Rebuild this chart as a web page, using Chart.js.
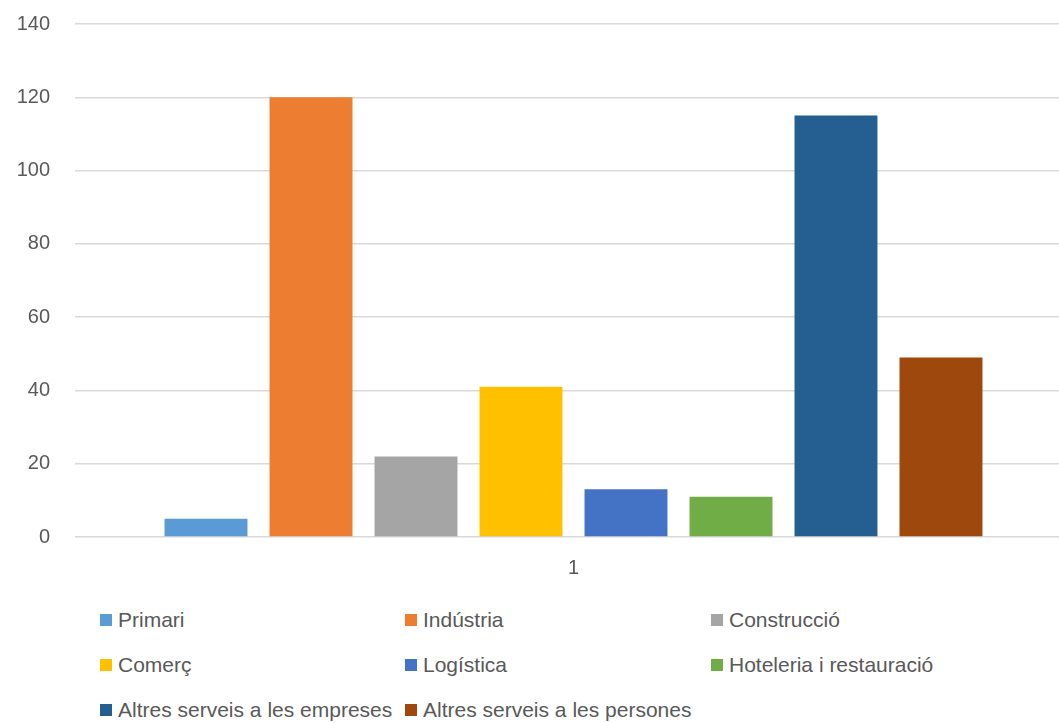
<!DOCTYPE html>
<html>
<head>
<meta charset="utf-8">
<script src="https://cdn.jsdelivr.net/npm/chart.js@4/dist/chart.umd.min.js"></script>
<style>
  html, body { margin: 0; padding: 0; background: #fff; overflow: hidden; }
  body { width: 1059px; height: 723px; position: relative; font-family: "Liberation Sans", Arial, sans-serif; }
  #wrap { position: absolute; left: 0; top: 0; width: 1072px; height: 587px; }
  #legenda { position: absolute; left: 100px; top: 597px; display: grid; grid-template-columns: 305px 306px 306px; row-gap: 0; }
  .item { height: 45px; display: flex; align-items: center; color: #595959; font-size: 21px; white-space: nowrap; }
  .item span.box { width: 12px; height: 12px; margin-right: 6px; display: inline-block; }
</style>
</head>
<body>
<div id="wrap"><canvas id="grafic"></canvas></div>
<div id="legenda"></div>
<script>
// Dades llegides del gràfic
const categories = ['1'];
const sectors = ['Primari', 'Indústria', 'Construcció', 'Comerç', 'Logística',
  'Hoteleria i restauració', 'Altres serveis a les empreses', 'Altres serveis a les persones'];
const valors = [5, 120, 22, 41, 13, 11, 115, 49];
const colors = ['#5B9BD5', '#ED7D31', '#A5A5A5', '#FFC000', '#4472C4', '#70AD47', '#255E91', '#9E480E'];
const ticksY = [0, 20, 40, 60, 80, 100, 120, 140];

const grafic = new Chart(document.getElementById('grafic'), {
  type: 'bar',
  data: {
    labels: categories,
    datasets: sectors.map((s, i) => ({
      label: s,
      data: [valors[i]],
      backgroundColor: colors[i],
      barPercentage: 0.79,
      categoryPercentage: 0.8425
    }))
  },
  options: {
    responsive: true,
    maintainAspectRatio: false,
    animation: false,
    layout: { padding: { top: 0, right: 0, left: 0, bottom: 0 } },
    plugins: {
      legend: { display: false },
      tooltip: { enabled: false }
    },
    scales: {
      x: {
        grid: { display: false, drawTicks: false },
        border: { display: false },
        ticks: { color: '#595959', font: { size: 20, family: '"Liberation Sans", Arial' }, padding: 19 },
        afterFit: scale => { scale.height = 50; }
      },
      y: {
        min: 0,
        max: 140,
        afterBuildTicks: scale => { scale.ticks = ticksY.map(v => ({ value: v })); },
        grid: { color: '#D9D9D9', lineWidth: 1.5, drawTicks: false },
        border: { display: false },
        ticks: { color: '#595959', font: { size: 20, family: '"Liberation Sans", Arial' }, padding: 25 },
        afterFit: scale => { scale.width = 75; scale.paddingTop = 24; }
      }
    }
  }
});

// Llegenda en tres columnes
const legenda = document.getElementById('legenda');
legenda.innerHTML = grafic.data.datasets.map(d =>
  `<div class="item"><span class="box" style="background:${d.backgroundColor}"></span>${d.label}</div>`
).join('');
</script>
</body>
</html>
